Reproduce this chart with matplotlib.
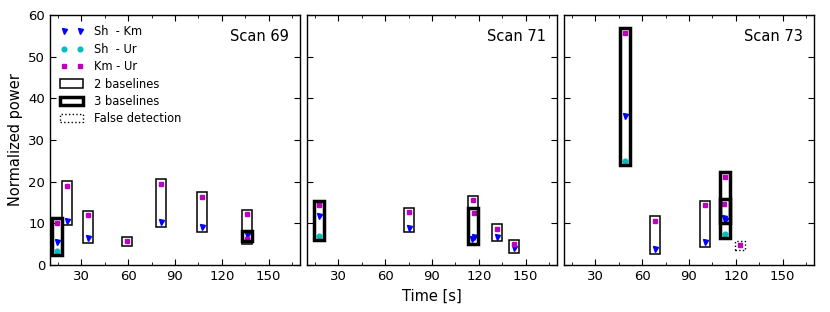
import matplotlib
matplotlib.use("Agg")
import matplotlib.pyplot as plt
from matplotlib.patches import Rectangle
from matplotlib.lines import Line2D
from matplotlib.ticker import MultipleLocator

plt.rcParams['font.family'] = ['DejaVu Sans']

scans = ["Scan 69", "Scan 71", "Scan 73"]

# Sh - Km points (time, power)
sk_t = [[14.3, 20.9, 34.3, 80.8, 107.1, 136.3],
        [17.4, 75.3, 115.6, 116.9, 131.8, 142.5],
        [49.0, 68.2, 100.2, 112.2, 113.0]]
sk_v = [[5.6, 10.6, 6.5, 10.3, 9.1, 7.2],
        [11.8, 9.0, 6.2, 6.7, 6.8, 4.1],
        [35.7, 3.8, 5.5, 11.4, 10.8]]
# Sh - Ur points
su_t = [[14.3], [17.4], [49.0, 113.0]]
su_v = [[3.4], [7.0], [25.0, 7.5]]
# Km - Ur points
ku_t = [[14.3, 20.9, 34.3, 59.3, 80.8, 107.1, 136.3, 136.3],
        [17.4, 75.3, 116.0, 116.9, 131.8, 142.5],
        [49.0, 68.2, 100.2, 112.2, 113.0, 122.6]]
ku_v = [[10.2, 19.0, 11.9, 5.7, 19.5, 16.4, 12.2, 6.2],
        [14.3, 12.7, 15.5, 12.6, 8.7, 5.0],
        [55.8, 10.6, 14.3, 14.7, 21.2, 4.7]]

# detection boxes: time, lowest value, highest value, kind (2, 3 baselines or false)
box_t = [[14.3, 20.9, 34.3, 59.3, 80.8, 107.1, 136.3, 136.3],
         [17.4, 75.3, 116.3, 116.3, 131.8, 142.5],
         [49.0, 68.2, 100.2, 113.0, 112.8, 122.6]]
box_lo = [[3.4, 10.6, 6.5, 5.7, 10.3, 9.1, 6.2, 6.8],
          [7.0, 9.0, 14.6, 6.1, 6.8, 4.1],
          [25.0, 3.8, 5.5, 7.5, 11.3, 4.7]]
box_hi = [[10.2, 19.0, 11.9, 5.7, 19.5, 16.4, 12.2, 7.0],
          [14.3, 12.7, 15.5, 12.6, 8.7, 5.0],
          [55.8, 10.6, 14.3, 21.2, 14.7, 4.7]]
box_kind = [["3", "2", "2", "2", "2", "2", "2", "3"],
            ["3", "2", "2", "3", "2", "2"],
            ["3", "2", "2", "3", "3", "f"]]

styles = {"2": dict(lw=1.1, ls="-"),
          "3": dict(lw=2.5, ls="-"),
          "f": dict(lw=1.0, ls=":")}

pad_x = 3.2
pad_y = 1.1

fig, axes = plt.subplots(1, 3, figsize=(8.3, 3.12), dpi=100, sharey=True)
fig.subplots_adjust(left=0.0602, right=0.9807, bottom=0.1506, top=0.9519, wspace=0.028)

MS_V, MS_O, MS_S = 3.6, 3.4, 3.2

for i, ax in enumerate(axes):
    ax.plot(sk_t[i], sk_v[i], ls="none", marker="v", color="b", mec="b", ms=MS_V, zorder=3)
    ax.plot(su_t[i], su_v[i], ls="none", marker="o", color="c", mec="c", ms=MS_O, zorder=3)
    ax.plot(ku_t[i], ku_v[i], ls="none", marker="s", color="m", mec="m", ms=MS_S, zorder=3)
    for t, lo, hi, k in zip(box_t[i], box_lo[i], box_hi[i], box_kind[i]):
        st = styles[k]
        ax.add_patch(Rectangle((t - pad_x, lo - pad_y), 2 * pad_x, hi - lo + 2 * pad_y,
                               fill=False, edgecolor="black", linewidth=st["lw"],
                               linestyle=st["ls"], zorder=4))
    ax.set_xlim(10, 170)
    ax.set_ylim(0, 60)
    ax.xaxis.set_major_locator(MultipleLocator(30))
    ax.xaxis.set_minor_locator(MultipleLocator(15))
    ax.yaxis.set_major_locator(MultipleLocator(10))
    ax.tick_params(which="both", direction="in", top=True, right=True, labelsize=9.5)
    ax.tick_params(which="major", length=4, width=0.8)
    ax.tick_params(which="minor", length=2, width=0.6)
    for sp in ax.spines.values():
        sp.set_linewidth(1.0)
    ax.text(0.955, 0.945, scans[i], transform=ax.transAxes, ha="right", va="top", fontsize=10.5)

axes[0].set_ylabel("Normalized power", fontsize=10.5)
axes[1].set_xlabel("Time [s]", fontsize=10.5)

handles = [
    Line2D([], [], ls="none", marker="v", color="b", mec="b", ms=MS_V),
    Line2D([], [], ls="none", marker="o", color="c", mec="c", ms=MS_O),
    Line2D([], [], ls="none", marker="s", color="m", mec="m", ms=MS_S),
    Rectangle((0, 0), 1, 1, facecolor="white", edgecolor="black", lw=1.1),
    Rectangle((0, 0), 1, 1, facecolor="white", edgecolor="black", lw=2.5),
    Rectangle((0, 0), 1, 1, facecolor="white", edgecolor="black", lw=1.0, ls=":"),
]
labels = ["Sh  - Km", "Sh  - Ur", "Km - Ur", "2 baselines", "3 baselines", "False detection"]
axes[0].legend(handles, labels, loc="upper left", frameon=False, numpoints=2,
               fontsize=8.3, handlelength=2.0, labelspacing=0.38, borderaxespad=0.5,
               handletextpad=0.9)

fig.savefig("out.png", dpi=100, facecolor="white")
